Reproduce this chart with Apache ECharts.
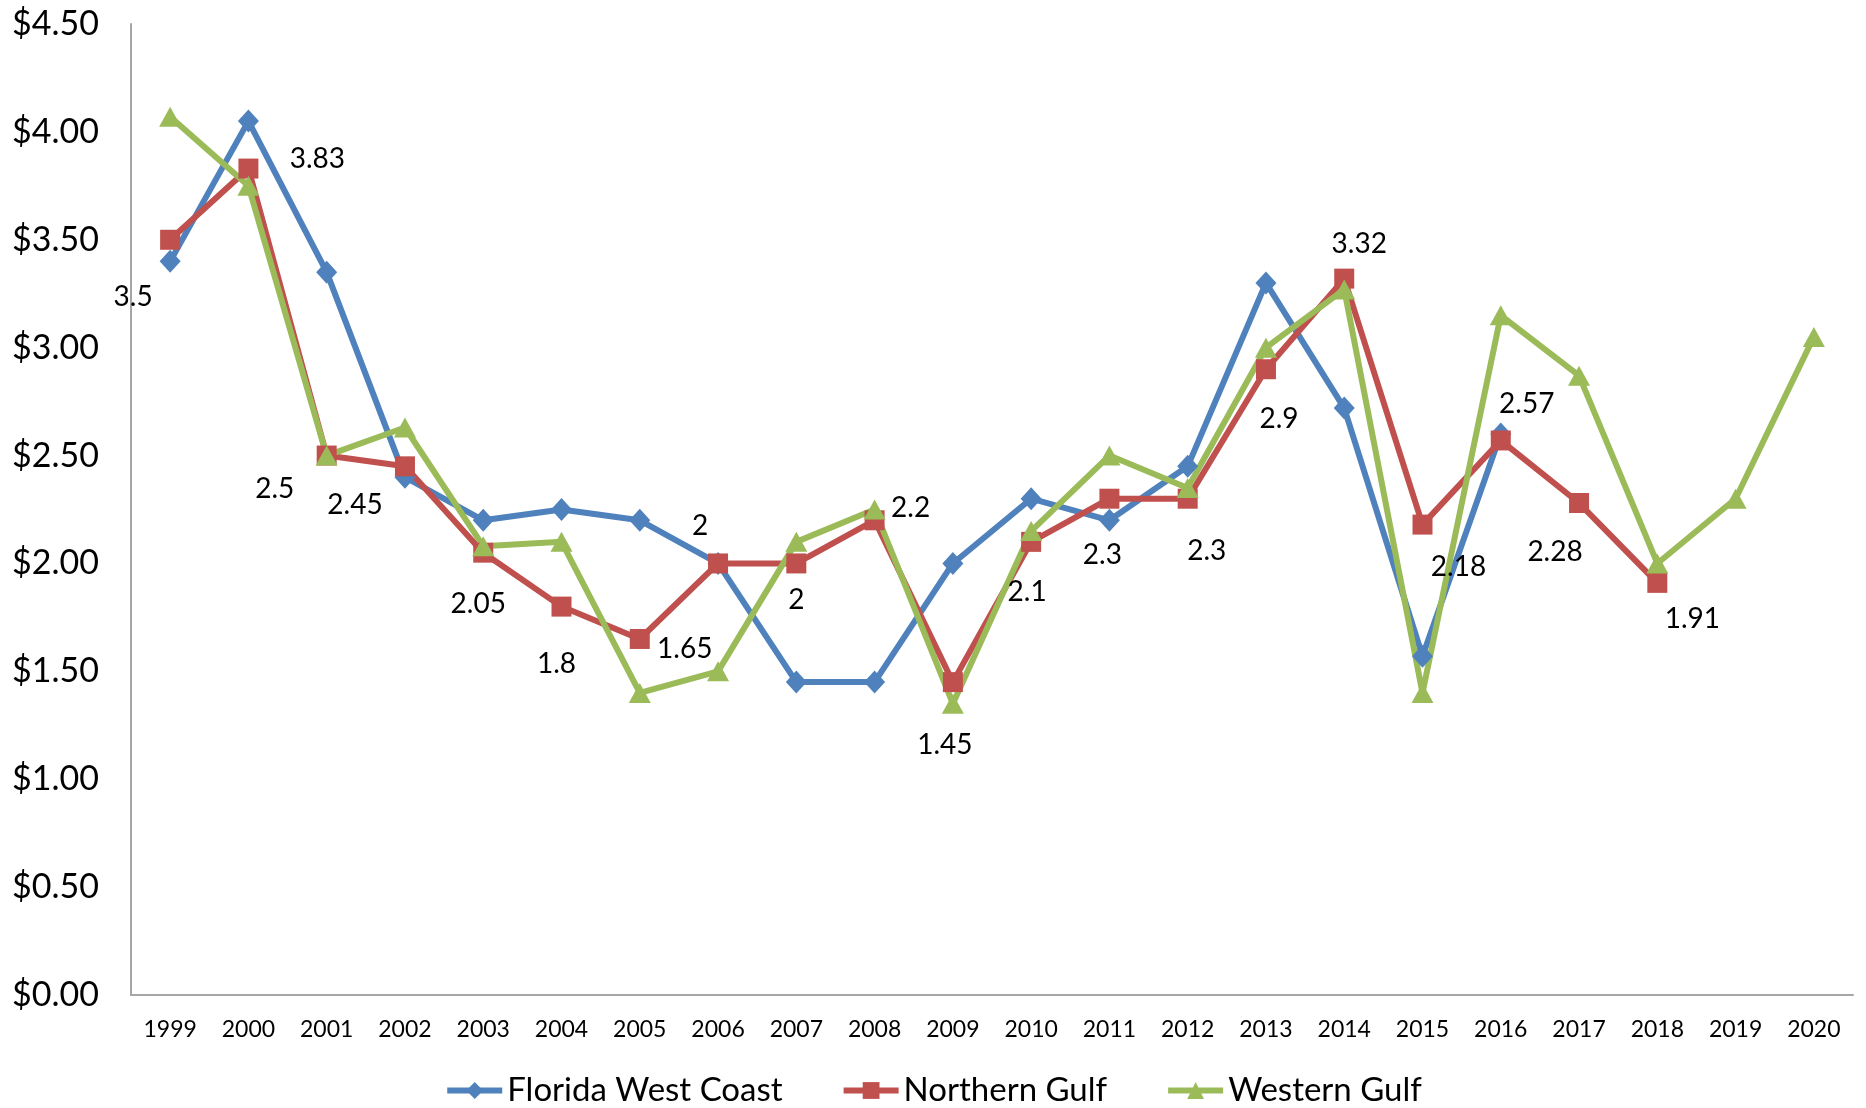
<!DOCTYPE html>
<html>
<head>
<meta charset="utf-8">
<script src="https://cdn.jsdelivr.net/npm/echarts@6/dist/echarts.min.js"></script>
<style>
  html, body { margin: 0; padding: 0; background: #fff; }
  #chart { width: 1866px; height: 1108px; }
</style>
</head>
<body>
<div id="chart"></div>
<script>
var years = ['1999','2000','2001','2002','2003','2004','2005','2006','2007','2008','2009',
             '2010','2011','2012','2013','2014','2015','2016','2017','2018','2019','2020'];

var floridaWestCoast = [3.4, 4.05, 3.35, 2.4, 2.2, 2.25, 2.2, 2.0, 1.45, 1.45, 2.0,
                        2.3, 2.2, 2.45, 3.3, 2.72, 1.57, 2.6, null, null, null, null];
var northernGulf = [3.5, 3.83, 2.5, 2.45, 2.05, 1.8, 1.65, 2, 2, 2.2, 1.45,
                    2.1, 2.3, 2.3, 2.9, 3.32, 2.18, 2.57, 2.28, 1.91, null, null];
var westernGulf = [4.07, 3.75, 2.5, 2.63, 2.08, 2.1, 1.4, 1.5, 2.1, 2.25, 1.35,
                   2.15, 2.5, 2.35, 3.0, 3.27, 1.4, 3.15, 2.87, 2.0, 2.3, 3.05];

// where each Northern Gulf label sits relative to its point (px)
var ngLabelOffsets = [[-37,57],[69,-10],[-52,33],[-50,39],[-5,51],[-5,57],[45,10],[-18,-37],
                      [0,37],[36,-12],[-8,63],[-4,50],[-7,56],[19,52],[13,50],[15,-35],
                      [36,42],[26,-36],[-24,49],[35,36]];

var FONT = 'Lato, "Open Sans", sans-serif';

var ngData = northernGulf.map(function (v, i) {
  if (v === null) return null;
  return {
    value: v,
    label: { show: true, position: 'inside', offset: ngLabelOffsets[i] }
  };
});

var chart = echarts.init(document.getElementById('chart'));
chart.setOption({
  animation: false,
  backgroundColor: '#fff',
  grid: { left: 131, right: 13, top: 24, bottom: 113 },
  legend: {
    bottom: -4,
    left: 'center',
    itemWidth: 55,
    itemHeight: 21,
    itemGap: 58,
    lineStyle: { width: 6 },
    textStyle: { fontFamily: FONT, fontSize: 33, color: '#000' },
    data: ['Florida West Coast', 'Northern Gulf', 'Western Gulf']
  },
  xAxis: {
    type: 'category',
    data: years,
    boundaryGap: true,
    axisLine: { lineStyle: { color: '#a6a6a6', width: 2 } },
    axisTick: { show: false },
    axisLabel: { fontFamily: FONT, fontSize: 23, color: '#000', margin: 23 }
  },
  yAxis: {
    type: 'value',
    min: 0,
    max: 4.5,
    interval: 0.5,
    axisLine: { show: true, lineStyle: { color: '#a6a6a6', width: 2 } },
    axisTick: { show: false },
    splitLine: { show: false },
    axisLabel: {
      fontFamily: FONT, fontSize: 34, color: '#000', margin: 32,
      formatter: function (v) { return '$' + v.toFixed(2); }
    }
  },
  series: [
    {
      name: 'Florida West Coast',
      type: 'line',
      data: floridaWestCoast,
      symbol: 'diamond',
      symbolSize: [21, 23],
      color: '#4f81bd',
      lineStyle: { width: 6, color: '#4f81bd' },
      itemStyle: { color: '#4f81bd' }
    },
    {
      name: 'Northern Gulf',
      type: 'line',
      data: ngData,
      symbol: 'rect',
      symbolSize: 20,
      color: '#c0504d',
      lineStyle: { width: 6, color: '#c0504d' },
      itemStyle: { color: '#c0504d' },
      label: { fontFamily: FONT, fontSize: 28, color: '#000' }
    },
    {
      name: 'Western Gulf',
      type: 'line',
      data: westernGulf,
      symbol: 'triangle',
      symbolSize: [22, 20],
      color: '#9bbb59',
      lineStyle: { width: 6, color: '#9bbb59' },
      itemStyle: { color: '#9bbb59' }
    }
  ]
});
</script>
</body>
</html>
